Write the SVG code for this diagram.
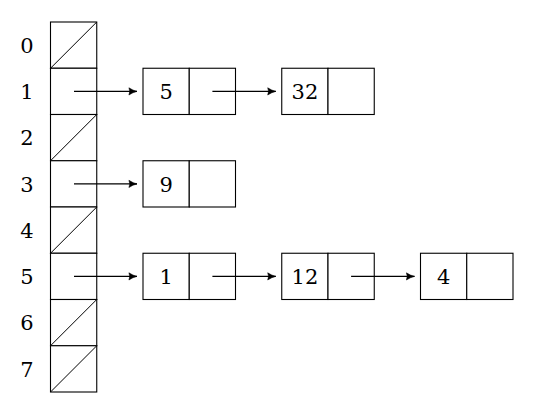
<svg xmlns="http://www.w3.org/2000/svg" width="540" height="414" viewBox="0 0 540 414">
<style>
.c{fill:#fff;stroke:#000;stroke-width:1.1}
.d{stroke:#000;stroke-width:1}
text{font-family:'DejaVu Serif','Liberation Serif',serif;font-size:21px;fill:#000;text-anchor:middle}
.a{stroke:#000;stroke-width:1.1;fill:none;marker-end:url(#ah)}
</style>
<defs>
<marker id="ah" viewBox="0 0 10 10" refX="9.5" refY="5" markerWidth="9" markerHeight="9" markerUnits="userSpaceOnUse" orient="auto">
<path d="M0.5,1 Q5,4 9.5,5 Q5,6 0.5,9 Q2.5,5 0.5,1 Z" fill="#000" stroke="#000" stroke-width="0.6" stroke-linejoin="round"/>
</marker>
</defs>
<g id="labels">
<text x="27" y="52.8">0</text>
<text x="27" y="99.1">1</text>
<text x="27" y="145.3">2</text>
<text x="27" y="191.6">3</text>
<text x="27" y="237.8">4</text>
<text x="27" y="284.1">5</text>
<text x="27" y="330.3">6</text>
<text x="27" y="376.6">7</text>
</g>
<g id="array">
<rect class="c" x="50.5" y="22" width="46.25" height="46.25"/>
<line class="d" x1="50.5" y1="68.25" x2="96.75" y2="22"/>
<rect class="c" x="50.5" y="68.25" width="46.25" height="46.25"/>
<rect class="c" x="50.5" y="114.5" width="46.25" height="46.25"/>
<line class="d" x1="50.5" y1="160.75" x2="96.75" y2="114.5"/>
<rect class="c" x="50.5" y="160.75" width="46.25" height="46.25"/>
<rect class="c" x="50.5" y="207" width="46.25" height="46.25"/>
<line class="d" x1="50.5" y1="253.25" x2="96.75" y2="207"/>
<rect class="c" x="50.5" y="253.25" width="46.25" height="46.25"/>
<rect class="c" x="50.5" y="299.5" width="46.25" height="46.25"/>
<line class="d" x1="50.5" y1="345.75" x2="96.75" y2="299.5"/>
<rect class="c" x="50.5" y="345.75" width="46.25" height="46.25"/>
<line class="d" x1="50.5" y1="392" x2="96.75" y2="345.75"/>
</g>
<g id="n1_5">
<rect class="c" x="143" y="68.25" width="46.25" height="46.25"/>
<rect class="c" x="189.25" y="68.25" width="46.25" height="46.25"/>
<text x="166.1" y="99.1">5</text>
</g>
<g id="n1_32">
<rect class="c" x="281.75" y="68.25" width="46.25" height="46.25"/>
<rect class="c" x="328" y="68.25" width="46.25" height="46.25"/>
<text x="304.9" y="99.1">32</text>
</g>
<g id="n3_9">
<rect class="c" x="143" y="160.75" width="46.25" height="46.25"/>
<rect class="c" x="189.25" y="160.75" width="46.25" height="46.25"/>
<text x="166.1" y="191.6">9</text>
</g>
<g id="n5_1">
<rect class="c" x="143" y="253.25" width="46.25" height="46.25"/>
<rect class="c" x="189.25" y="253.25" width="46.25" height="46.25"/>
<text x="166.1" y="284.1">1</text>
</g>
<g id="n5_12">
<rect class="c" x="281.75" y="253.25" width="46.25" height="46.25"/>
<rect class="c" x="328" y="253.25" width="46.25" height="46.25"/>
<text x="304.9" y="284.1">12</text>
</g>
<g id="n5_4">
<rect class="c" x="420.5" y="253.25" width="46.25" height="46.25"/>
<rect class="c" x="466.75" y="253.25" width="46.25" height="46.25"/>
<text x="443.6" y="284.1">4</text>
</g>
<g id="connectors">
<line class="a" x1="74" y1="91.4" x2="137" y2="91.4"/>
<line class="a" x1="212.4" y1="91.4" x2="275.8" y2="91.4"/>
<line class="a" x1="74" y1="183.9" x2="137" y2="183.9"/>
<line class="a" x1="74" y1="276.4" x2="137" y2="276.4"/>
<line class="a" x1="212.4" y1="276.4" x2="275.8" y2="276.4"/>
<line class="a" x1="351.1" y1="276.4" x2="414.5" y2="276.4"/>
</g>
</svg>
